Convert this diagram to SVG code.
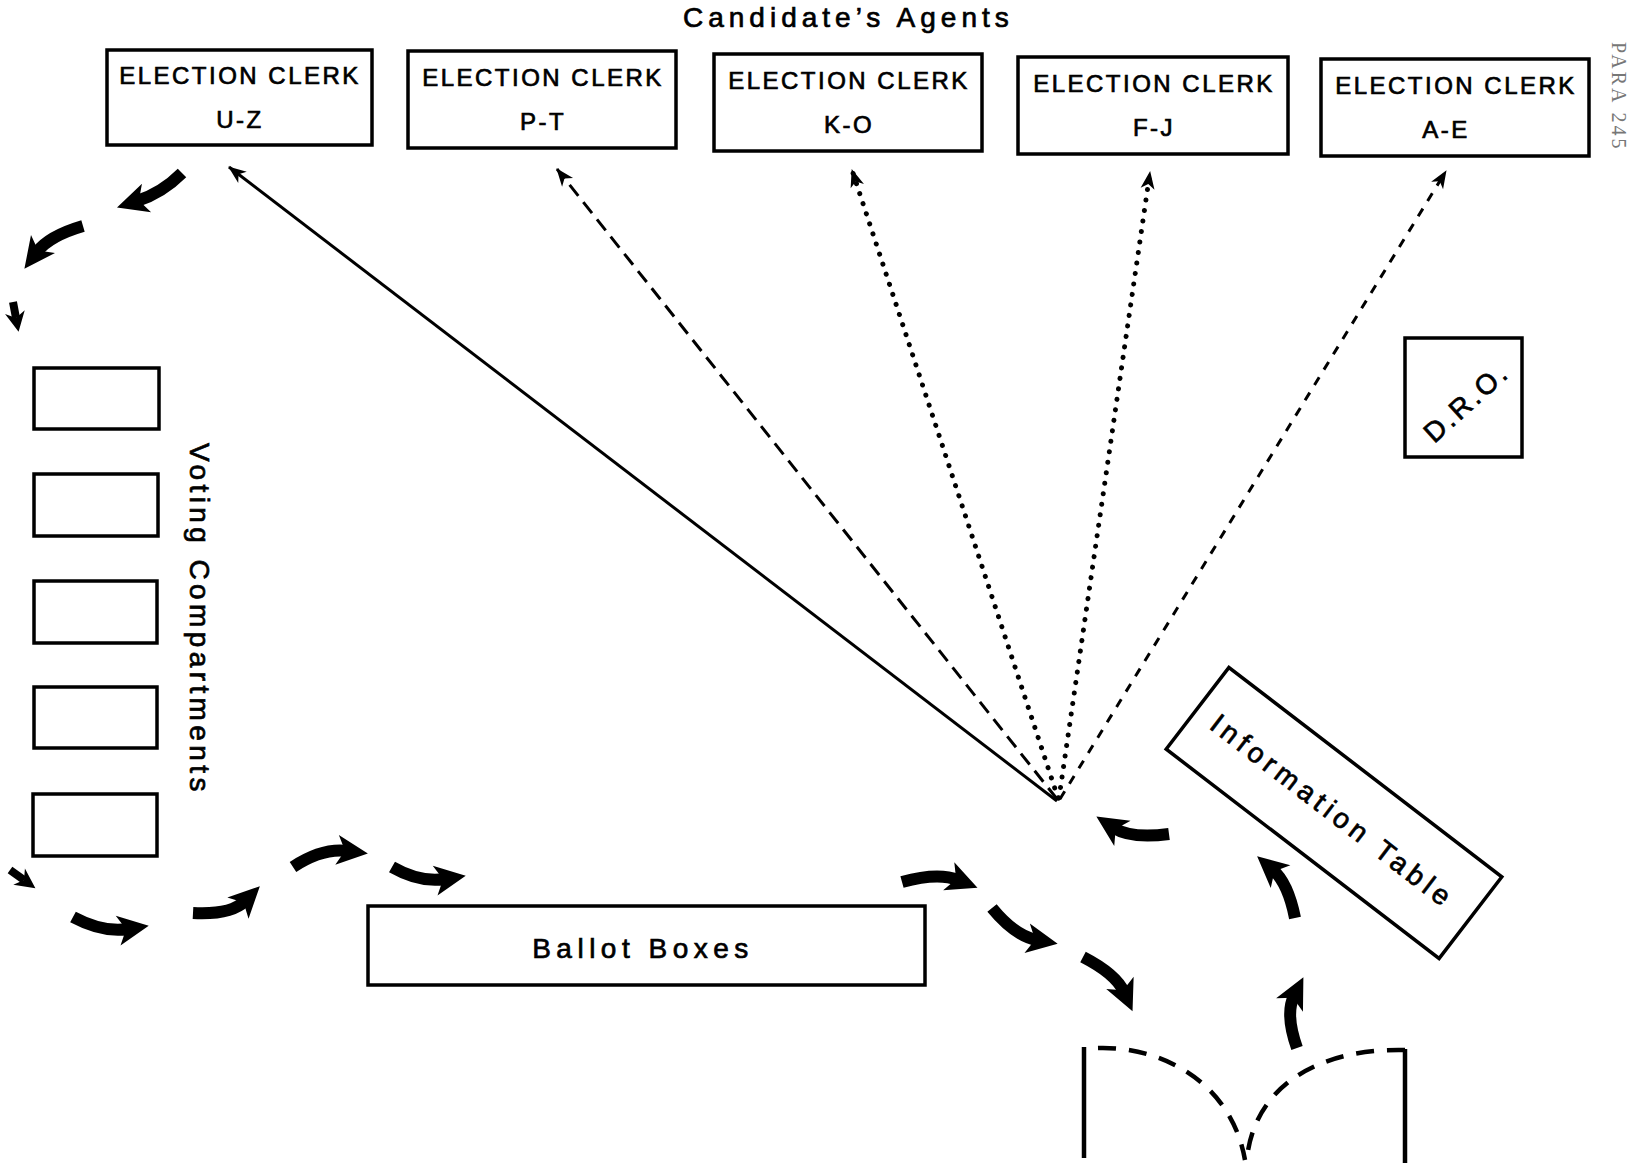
<svg xmlns="http://www.w3.org/2000/svg" width="1633" height="1170" viewBox="0 0 1633 1170">
<defs>
<style>
.box{fill:#fff;stroke:#000;stroke-width:3.5}
.t{font-family:"Liberation Sans",Arial,sans-serif;fill:#000;stroke:#000;stroke-width:0.7}
.clerk{font-size:24px;letter-spacing:2.5px;text-anchor:middle}
.big{font-size:28px;letter-spacing:5px}
.fan{fill:none;stroke:#000;stroke-width:3;marker-end:url(#fanHead)}
.dash{stroke-dasharray:14 8}
.dash2{stroke-dasharray:9 9}
.dot{stroke-width:5;stroke-linecap:round;stroke-dasharray:0.1 10.5}
.thick{fill:none;stroke:#000;stroke-width:12;marker-end:url(#bigHead)}
.small{fill:none;stroke:#000;stroke-width:8;marker-end:url(#smallHead)}
.door{fill:none;stroke:#000;stroke-width:4.5}
</style>
<marker id="fanHead" markerUnits="userSpaceOnUse" viewBox="-20 -10 24 20" refX="0" refY="0" markerWidth="24" markerHeight="20" orient="auto" overflow="visible">
<path d="M1,0 L-17,-7 L-12,0 L-17,7 Z" fill="#000"/>
</marker>
<marker id="bigHead" markerUnits="userSpaceOnUse" viewBox="-15 -18 40 36" refX="0" refY="0" markerWidth="40" markerHeight="36" orient="auto" overflow="visible">
<path d="M21,0 L-10,-15 L-2,0 L-10,15 Z" fill="#000"/>
</marker>
<marker id="smallHead" markerUnits="userSpaceOnUse" viewBox="-10 -12 28 24" refX="0" refY="0" markerWidth="28" markerHeight="24" orient="auto" overflow="visible">
<path d="M14,0 L-6,-10 L0,0 L-6,10 Z" fill="#000"/>
</marker>
</defs>
<rect width="1633" height="1170" fill="#fff"/>

<text class="t big" x="683" y="27">Candidate’s Agents</text>
<text transform="translate(1612,42) rotate(90)" style="font-family:'Liberation Serif',serif;font-size:20px;letter-spacing:3px;fill:#777">PARA 245</text>

<g id="clerk-uz">
<rect class="box" x="107" y="50" width="265" height="95"/>
<text class="t clerk" x="240" y="84">ELECTION CLERK</text>
<text class="t clerk" x="240" y="128">U-Z</text>
</g>
<g id="clerk-pt">
<rect class="box" x="408" y="51" width="268" height="97"/>
<text class="t clerk" x="543" y="86">ELECTION CLERK</text>
<text class="t clerk" x="543" y="130">P-T</text>
</g>
<g id="clerk-ko">
<rect class="box" x="714" y="54" width="268" height="97"/>
<text class="t clerk" x="849" y="89">ELECTION CLERK</text>
<text class="t clerk" x="849" y="133">K-O</text>
</g>
<g id="clerk-fj">
<rect class="box" x="1018" y="57" width="270" height="97"/>
<text class="t clerk" x="1154" y="92">ELECTION CLERK</text>
<text class="t clerk" x="1154" y="136">F-J</text>
</g>
<g id="clerk-ae">
<rect class="box" x="1321" y="59" width="268" height="97"/>
<text class="t clerk" x="1456" y="94">ELECTION CLERK</text>
<text class="t clerk" x="1446" y="138">A-E</text>
</g>

<g id="voting-compartments">
<rect class="box" x="34" y="368" width="125" height="61"/>
<rect class="box" x="34" y="474" width="124" height="62"/>
<rect class="box" x="34" y="581" width="123" height="62"/>
<rect class="box" x="34" y="687" width="123" height="61"/>
<rect class="box" x="33" y="794" width="124" height="62"/>
<text class="t big" transform="translate(190,443) rotate(90)" style="letter-spacing:4.4px">Voting Compartments</text>
</g>

<g id="ballot-boxes">
<rect class="box" x="368" y="906" width="557" height="79"/>
<text class="t big" x="643" y="958" text-anchor="middle" style="letter-spacing:5.5px">Ballot Boxes</text>
</g>

<g id="dro">
<rect class="box" x="1405" y="338" width="117" height="119"/>
<text class="t big" transform="translate(1466,402) rotate(-42)" y="10" text-anchor="middle" style="letter-spacing:3px">D.R.O.</text>
</g>

<g id="information-table">
<rect class="box" transform="translate(1334,813) rotate(37.5)" x="-172" y="-51.5" width="344" height="103"/>
<text class="t big" transform="translate(1333,811) rotate(37.5)" y="10" text-anchor="middle">Information Table</text>
</g>

<g id="door">
<line class="door" x1="1084" y1="1047" x2="1084" y2="1158"/>
<line class="door" x1="1405" y1="1049" x2="1405" y2="1163"/>
<path class="door" style="stroke-dasharray:18 13" d="M1098,1048 C1165,1046 1232,1085 1245,1160"/>
<path class="door" style="stroke-dasharray:18 13" d="M1405,1050 C1320,1048 1255,1085 1247,1158"/>
</g>

<g id="connectors">
<line class="fan" x1="1057" y1="801" x2="229" y2="167"/>
<line class="fan dash" x1="1057" y1="799" x2="557" y2="169"/>
<line class="fan dot" x1="1058" y1="798" x2="852" y2="170"/>
<line class="fan dot" x1="1059" y1="798" x2="1150" y2="172"/>
<line class="fan dash2" x1="1060" y1="799" x2="1446" y2="171"/>

<path class="thick" d="M182,173 Q162,193 137,201"/>
<path class="thick" d="M83,226 Q49,236 37,252"/>
<path class="small" d="M13,302 L16,318"/>
<path class="small" d="M10,870 L24,880"/>
<path class="thick" d="M73,917 Q103,933 128,929"/>
<path class="thick" d="M193,913 Q231,915 245,901"/>
<path class="thick" d="M293,867 Q322,848 347,851"/>
<path class="thick" d="M392,867 Q420,883 445,879"/>
<path class="thick" d="M902,882 Q938,872 958,880"/>
<path class="thick" d="M992,908 Q1015,936 1037,940"/>
<path class="thick" d="M1083,957 Q1116,974 1124,992"/>
<path class="thick" d="M1169,834 Q1131,839 1114,828"/>
<path class="thick" d="M1295,918 Q1288,883 1273,870"/>
<path class="thick" d="M1297,1048 Q1285,1014 1294,996"/>
</g>
</svg>
